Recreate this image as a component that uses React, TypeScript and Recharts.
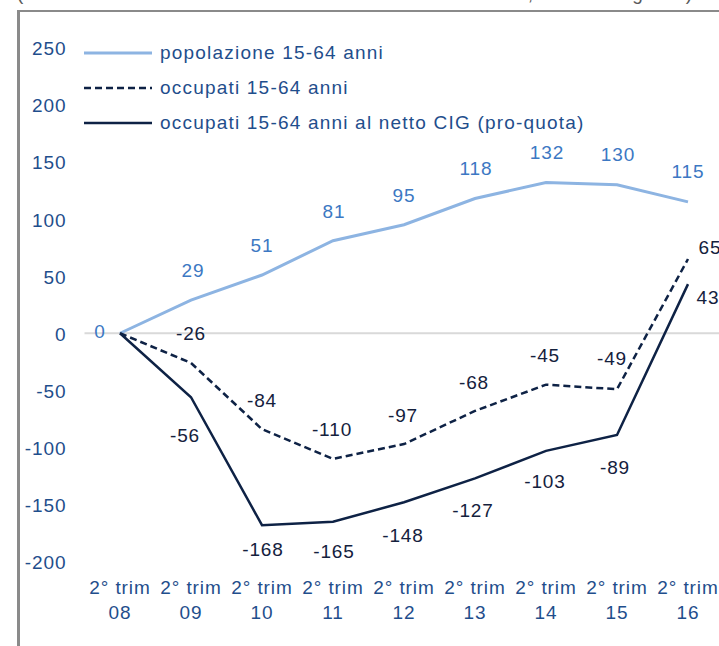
import React from 'react';
import { LineChart, Line, XAxis, YAxis, ReferenceLine, LabelList, Legend } from 'recharts';

const categories = ['08', '09', '10', '11', '12', '13', '14', '15', '16'];
const popolazione = [0, 29, 51, 81, 95, 118, 132, 130, 115];
const occupati = [0, -26, -84, -110, -97, -68, -45, -49, 65];
const occupatiNetto = [0, -56, -168, -165, -148, -127, -103, -89, 43];
const yTicks = [-200, -150, -100, -50, 0, 50, 100, 150, 200, 250];
const seriesKeys = ['pop', 'occ', 'net'];
const seriesNames: Record<string, string> = {
  pop: 'popolazione 15-64 anni',
  occ: 'occupati 15-64 anni',
  net: 'occupati 15-64 anni al netto CIG (pro-quota)',
};
const tickPrefix = '2° trim';
const titleText = '(variazioni cumulate dal secondo trimestre del 2008, dati in migliaia)';

const data = categories.map((c, i) => ({
  cat: c,
  pop: popolazione[i],
  occ: occupati[i],
  net: occupatiNetto[i],
}));

// label nudges [dx, dy] (positions only, not data); null hides the label
const POP_NUDGE: ([number, number] | null)[] = [[-20, -1.5], [2, -29.5], [0, -29.5], [1, -29.5], [0, -29.5], [1, -30], [1, -29.5], [1, -30], [0, -30]];
const OCC_NUDGE: ([number, number] | null)[] = [null, [0, -29.5], [0, -29], [-1, -29], [-1, -29], [-1, -28], [-1, -29], [-5, -31], [22, -12]];
const NET_NUDGE: ([number, number] | null)[] = [null, [-6, 38.5], [1, 24], [1, 30], [-1, 33], [-2, 32], [-1, 31], [-2, 33], [20, 13]];

const FONT = '"Liberation Sans", Arial, sans-serif';
const TICK_COLOR = '#1F4E8C';
const POP_COLOR = '#8DB4E2';
const POP_LABEL = '#3C78C3';
const NAVY = '#0E2245';
const NAVY_LABEL = '#14213D';
const FS = 19;
const LS = 0.9;

const lineStyles: Record<string, { stroke: string; width: number; dash?: string }> = {
  pop: { stroke: POP_COLOR, width: 3 },
  occ: { stroke: NAVY, width: 2.5, dash: '7 4' },
  net: { stroke: NAVY, width: 2.5 },
};

const makeLabel = (nudges: ([number, number] | null)[], color: string) => (props: any) => {
  const { x, y, value, index } = props;
  const n = nudges[index];
  if (!n || x == null || y == null) return null;
  return (
    <text
      x={x + n[0]}
      y={y + n[1]}
      textAnchor="middle"
      dominantBaseline="central"
      fill={color}
      fontSize={FS}
      fontFamily={FONT}
      style={{ letterSpacing: LS }}
    >
      {value}
    </text>
  );
};

const XTick = (props: any) => {
  const { x, y, payload } = props;
  return (
    <g>
      <text x={x} y={y + 26} textAnchor="middle" dominantBaseline="central" fill={TICK_COLOR} fontSize={FS} fontFamily={FONT} style={{ letterSpacing: LS }}>
        {tickPrefix}
      </text>
      <text x={x} y={y + 51} textAnchor="middle" dominantBaseline="central" fill={TICK_COLOR} fontSize={FS} fontFamily={FONT} style={{ letterSpacing: LS }}>
        {payload.value}
      </text>
    </g>
  );
};

const YTick = (props: any) => {
  const { x, y, payload } = props;
  return (
    <text x={x} y={y + 1} textAnchor="end" dominantBaseline="central" fill={TICK_COLOR} fontSize={FS} fontFamily={FONT} style={{ letterSpacing: LS }}>
      {payload.value}
    </text>
  );
};

const renderLegend = (props: any) => {
  const payload = [...(props.payload || [])].sort(
    (a: any, b: any) => seriesKeys.indexOf(a.dataKey) - seriesKeys.indexOf(b.dataKey)
  );
  return (
    <div style={{ fontFamily: FONT }}>
      {payload.map((entry: any) => {
        const st = lineStyles[entry.dataKey] || lineStyles.pop;
        return (
          <div key={entry.dataKey} style={{ display: 'flex', alignItems: 'center', height: 35 }}>
            <svg width={77} height={10} style={{ display: 'block', flex: 'none' }}>
              <line x1={1} x2={69} y1={5} y2={5} stroke={st.stroke} strokeWidth={st.width} strokeDasharray={st.dash} />
            </svg>
            <span style={{ fontSize: FS, letterSpacing: 1.2, color: TICK_COLOR, whiteSpace: 'nowrap', lineHeight: '35px' }}>
              {entry.value}
            </span>
          </div>
        );
      })}
    </div>
  );
};

export default function App() {
  return (
    <div style={{ position: 'fixed', left: 0, top: 0, width: 719, height: 646, overflow: 'hidden', background: '#fff' }}>
      <svg style={{ position: 'absolute', left: 0, top: 0 }} width={719} height={20}>
        <text x={17} y={0} textLength={675} lengthAdjust="spacing" fontSize={FS} fontFamily={FONT} fill="#595959">
          {titleText}
        </text>
      </svg>
      <div
        style={{
          position: 'absolute',
          left: 16.5,
          top: 10,
          width: 800,
          height: 800,
          borderLeft: '3px solid #8A8A8A',
          borderTop: '2px solid #8A8A8A',
        }}
      />
      <div style={{ position: 'absolute', left: 0, top: 0 }}>
        <LineChart width={740} height={646} data={data} margin={{ top: 47.7, right: 16.5, bottom: 24.3, left: 0 }}>
          <XAxis
            dataKey="cat"
            axisLine={false}
            tickLine={false}
            tickSize={0}
            tickMargin={0}
            height={60}
            padding={{ left: 35.5, right: 35.5 }}
            interval={0}
            tick={<XTick />}
          />
          <YAxis
            type="number"
            domain={[-200, 250]}
            ticks={yTicks}
            interval={0}
            axisLine={false}
            tickLine={false}
            tickSize={0}
            tickMargin={18}
            width={84.5}
            tick={<YTick />}
          />
          <ReferenceLine y={0} stroke="#D9D9D9" strokeWidth={2} />
          <Legend
            layout="horizontal"
            verticalAlign="middle"
            align="center"
            content={renderLegend}
            wrapperStyle={{ left: 83, top: 35.2, width: 600, height: 105 }}
          />
          <Line
            type="linear"
            dataKey="pop"
            name={seriesNames.pop}
            stroke={POP_COLOR}
            strokeWidth={3}
            dot={false}
            activeDot={false}
            isAnimationActive={false}
          >
            <LabelList dataKey="pop" content={makeLabel(POP_NUDGE, POP_LABEL)} />
          </Line>
          <Line
            type="linear"
            dataKey="occ"
            name={seriesNames.occ}
            stroke={NAVY}
            strokeWidth={2.5}
            strokeDasharray="7 4"
            dot={false}
            activeDot={false}
            isAnimationActive={false}
          >
            <LabelList dataKey="occ" content={makeLabel(OCC_NUDGE, NAVY_LABEL)} />
          </Line>
          <Line
            type="linear"
            dataKey="net"
            name={seriesNames.net}
            stroke={NAVY}
            strokeWidth={2.5}
            dot={false}
            activeDot={false}
            isAnimationActive={false}
          >
            <LabelList dataKey="net" content={makeLabel(NET_NUDGE, NAVY_LABEL)} />
          </Line>
        </LineChart>
      </div>
    </div>
  );
}
